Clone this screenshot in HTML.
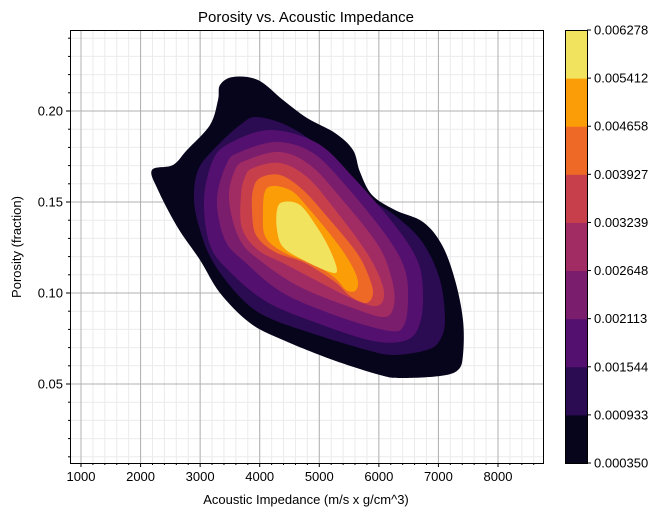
<!DOCTYPE html>
<html><head><meta charset="utf-8"><style>
body{margin:0;background:#fff;}
svg text{font-family:"Liberation Sans","DejaVu Sans",sans-serif;fill:#000;}
</style></head><body>
<svg id="s" width="672" height="520" xmlns="http://www.w3.org/2000/svg">
<rect width="672" height="520" fill="#fff"/>
<g id="grid"></g>
<g id="kde"></g>
<rect x="70.5" y="30.5" width="473" height="433" fill="none" stroke="#000" stroke-width="1"/>
<g id="ticks"></g>
<text x="306" y="22" font-size="15" text-anchor="middle">Porosity vs. Acoustic Impedance</text>
<text x="306" y="504" font-size="13" text-anchor="middle">Acoustic Impedance (m/s x g/cm^3)</text>
<text transform="translate(21,247) rotate(-90)" font-size="13" text-anchor="middle">Porosity (fraction)</text>
<g id="cb"></g>
</svg>
<script>
(function(){
const NS="http://www.w3.org/2000/svg";
function el(t,a,p){const e=document.createElementNS(NS,t);for(const k in a)e.setAttribute(k,a[k]);document.getElementById(p).appendChild(e);return e;}
const X=v=>81+(v-1000)*0.05957, Y=v=>111+(0.20-v)*1820;
for(let v=1000;v<=8600;v+=200){const x=X(v);if(x<70||x>543)continue;el('line',{x1:x,x2:x,y1:30,y2:463,stroke:'#ebebeb','stroke-width':1},'grid');}
for(let i=1;i<=24;i++){const v=i/100,y=Y(v);if(y<30||y>463)continue;el('line',{x1:70,x2:543,y1:y,y2:y,stroke:'#ebebeb','stroke-width':1},'grid');}
for(let v=1000;v<=8000;v+=1000){const x=X(v);el('line',{x1:x,x2:x,y1:30,y2:463,stroke:'#b0b0b0','stroke-width':1},'grid');}
[0.05,0.10,0.15,0.20].forEach(v=>{const y=Y(v);el('line',{x1:70,x2:543,y1:y,y2:y,stroke:'#b0b0b0','stroke-width':1},'grid');});
for(let v=1000;v<=8600;v+=200){const x=X(v);if(x<70||x>543)continue;const maj=v%1000==0;el('line',{x1:x,x2:x,y1:463,y2:463+(maj?4:2),stroke:'#000'},'ticks');if(maj){const t=el('text',{x:x,y:481,'font-size':13,'text-anchor':'middle'},'ticks');t.textContent=v;}}
for(let i=1;i<=24;i++){const v=i/100,y=Y(v);if(y<30||y>463)continue;const maj=i%5==0;el('line',{x1:70,x2:70-(maj?4:2),y1:y,y2:y,stroke:'#000'},'ticks');if(maj){const t=el('text',{x:63,y:y+4.5,'font-size':13,'text-anchor':'end'},'ticks');t.textContent=v.toFixed(2);}}
function path(p){const n=p.length;let d=`M${p[0][0]},${p[0][1]}`;for(let i=0;i<n;i++){const p0=p[(i-1+n)%n],p1=p[i],p2=p[(i+1)%n],p3=p[(i+2)%n];const c1=[p1[0]+(p2[0]-p0[0])/6,p1[1]+(p2[1]-p0[1])/6],c2=[p2[0]-(p3[0]-p1[0])/6,p2[1]-(p3[1]-p1[1])/6];d+=`C${c1} ${c2} ${p2}`;}return d+'Z';}
const L=[
[[152,170],[173,165],[187,150],[210,125],[218,100],[220,85],[233,77],[258,80],[283,100],[307,118],[335,133],[353,150],[360,172],[372,195],[395,210],[423,222],[442,245],[455,280],[463,320],[463,355],[458,370],[440,376],[400,378],[380,375],[333,360],[283,340],[250,323],[220,293],[200,260],[178,228],[158,190]],
[[257,117],[290,127],[327,153],[363,193],[397,217],[423,243],[440,280],[445,320],[440,340],[427,350],[393,355],[367,350],[317,335],[267,317],[240,297],[213,262],[200,230],[194,200],[198,170],[215,148],[240,125]],
[[230,143],[270,130],[317,143],[353,177],[397,228],[418,262],[423,293],[420,323],[407,340],[373,341],[317,323],[267,302],[230,272],[210,245],[204,200],[213,160]],
[[240,152],[277,142],[313,153],[347,187],[388,238],[405,270],[408,300],[404,325],[390,331],[340,317],[283,293],[245,262],[225,240],[217,200],[227,163]],
[[247,160],[280,152],[310,165],[340,197],[378,245],[392,280],[394,305],[384,317],[350,307],[300,287],[262,262],[240,240],[229,200],[235,170]],
[[253,168],[280,163],[307,177],[333,207],[365,250],[380,278],[384,297],[376,306],[355,300],[323,284],[285,264],[258,250],[242,228],[241,195],[245,177]],
[[260,178],[280,175],[303,190],[330,220],[357,253],[369,277],[373,294],[366,303],[350,296],[335,282],[305,263],[275,252],[256,235],[252,210],[253,190]],
[[267,188],[290,190],[310,210],[337,243],[352,266],[358,282],[355,291],[346,290],[335,278],[315,265],[285,253],[266,238],[263,215]],
[[283,202],[300,205],[317,227],[330,250],[337,270],[330,272],[303,260],[283,247],[277,230],[277,210]]
];
const F=['#07051b','#2b0b52','#54106e','#7a1d6d','#a12c63','#c83f4c','#ed6925','#fb9d07','#f2e35f'];
L.forEach((p,i)=>el('path',{d:path(p),fill:F[i]},'kde'));
const labs=['0.000350','0.000933','0.001544','0.002113','0.002648','0.003239','0.003927','0.004658','0.005412','0.006278'];
const cbTop=30,cbBot=463,h=(cbBot-cbTop)/9;
for(let i=0;i<9;i++){el('rect',{x:565,y:cbBot-(i+1)*h,width:22,height:h+0.5,fill:F[i]},'cb');}
el('rect',{x:565.5,y:30.5,width:22,height:433,fill:'none',stroke:'#000'},'cb');
labs.forEach((l,i)=>{const y=cbBot-i*h;el('line',{x1:587,x2:591,y1:y,y2:y,stroke:'#000'},'cb');const t=el('text',{x:594,y:y+4.5,'font-size':13},'cb');t.textContent=l;});
})();
</script>
</body></html>
